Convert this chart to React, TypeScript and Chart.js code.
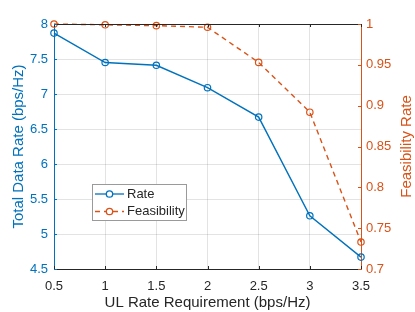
import React, { useEffect, useRef } from "react";
import { Chart, registerables } from "chart.js";

Chart.register(...registerables);

const xValues = [0.5, 1, 1.5, 2, 2.5, 3, 3.5];
const rateValues = [7.87, 7.45, 7.41, 7.09, 6.67, 5.26, 4.67];
const feasValues = [1.0, 0.999, 0.998, 0.996, 0.953, 0.892, 0.733];
const seriesNames = ["Rate", "Feasibility"];
const xTitle = "UL Rate Requirement (bps/Hz)";
const yTitle = "Total Data Rate (bps/Hz)";
const y1Title = "Feasibility Rate";

const BLUE = "#0072BD";
const ORANGE = "#D95319";
const DARK = "#262626";
const GRID = "rgba(38,38,38,0.13)";
const FONT = "'Liberation Sans', Arial, Helvetica, sans-serif";
const TITLE_SIZE = 15;

const fmt = (v: number) => String(Number(Number(v).toFixed(2)));

const overlayPlugin = {
  id: "overlay",
  afterDraw(chart: any) {
    const ctx = chart.ctx;
    const { left, right, top, bottom } = chart.chartArea;
    const xs = chart.scales.x;
    const ys = chart.scales.y;
    const y1s = chart.scales.y1;
    ctx.save();
    ctx.strokeStyle = DARK;
    ctx.lineWidth = 1;
    ctx.beginPath();
    ctx.moveTo(left, top + 0.5);
    ctx.lineTo(right, top + 0.5);
    ctx.stroke();
    const tl = 3;
    ctx.strokeStyle = DARK;
    xs.ticks.forEach((t: any) => {
      const px = Math.round(xs.getPixelForValue(t.value)) + 0.5;
      ctx.beginPath();
      ctx.moveTo(px, bottom);
      ctx.lineTo(px, bottom - tl);
      ctx.moveTo(px, top);
      ctx.lineTo(px, top + tl);
      ctx.stroke();
    });
    ctx.strokeStyle = BLUE;
    ys.ticks.forEach((t: any) => {
      const py = Math.round(ys.getPixelForValue(t.value)) + 0.5;
      ctx.beginPath();
      ctx.moveTo(left, py);
      ctx.lineTo(left + tl, py);
      ctx.stroke();
    });
    ctx.strokeStyle = ORANGE;
    y1s.ticks.forEach((t: any) => {
      const py = Math.round(y1s.getPixelForValue(t.value)) + 0.5;
      ctx.beginPath();
      ctx.moveTo(right, py);
      ctx.lineTo(right - tl, py);
      ctx.stroke();
    });
    ctx.fillStyle = ORANGE;
    ctx.font = `${TITLE_SIZE}px ${FONT}`;
    ctx.textAlign = "center";
    ctx.textBaseline = "middle";
    ctx.translate(chart.width - 8, (top + bottom) / 2);
    ctx.rotate(-Math.PI / 2);
    ctx.fillText(y1Title, 0, 0);
    ctx.restore();

    ctx.save();
    const lx = 92, ly = 184, lw = 94, lh = 36;
    ctx.fillStyle = "#ffffff";
    ctx.fillRect(lx, ly, lw, lh);
    ctx.strokeStyle = "#9a9a9a";
    ctx.lineWidth = 1;
    ctx.strokeRect(lx + 0.5, ly + 0.5, lw, lh);
    const rows = [
      { name: seriesNames[0], color: BLUE, dash: [] as number[], y: 194 },
      { name: seriesNames[1], color: ORANGE, dash: [5, 4], y: 211.5 },
    ];
    rows.forEach((r) => {
      ctx.strokeStyle = r.color;
      ctx.lineWidth = 1.3;
      ctx.setLineDash(r.dash);
      ctx.beginPath();
      ctx.moveTo(95, r.y);
      ctx.lineTo(124, r.y);
      ctx.stroke();
      ctx.setLineDash([]);
      ctx.beginPath();
      ctx.arc(109.5, r.y, 3.2, 0, Math.PI * 2);
      ctx.fillStyle = "#ffffff";
      ctx.fill();
      ctx.stroke();
      ctx.fillStyle = DARK;
      ctx.font = `13px ${FONT}`;
      ctx.textAlign = "left";
      ctx.textBaseline = "middle";
      ctx.fillText(r.name, 127, r.y);
    });
    ctx.restore();
  },
};

export default function App() {
  const ref = useRef<HTMLCanvasElement | null>(null);
  useEffect(() => {
    if (!ref.current) return;
    const chart = new Chart(ref.current, {
      type: "line",
      data: {
        datasets: [
          {
            label: seriesNames[1],
            data: xValues.map((x, i) => ({ x, y: feasValues[i] })),
            yAxisID: "y1",
            borderColor: ORANGE,
            backgroundColor: "rgba(0,0,0,0)",
            borderWidth: 1.4,
            borderDash: [5, 4],
            pointRadius: 3.2,
            pointBorderWidth: 1.2,
            pointBackgroundColor: "rgba(0,0,0,0)",
            pointBorderColor: ORANGE,
            tension: 0,
            clip: false as any,
          },
          {
            label: seriesNames[0],
            data: xValues.map((x, i) => ({ x, y: rateValues[i] })),
            yAxisID: "y",
            borderColor: BLUE,
            backgroundColor: "rgba(0,0,0,0)",
            borderWidth: 1.4,
            pointRadius: 3.2,
            pointBorderWidth: 1.2,
            pointBackgroundColor: "rgba(0,0,0,0)",
            pointBorderColor: BLUE,
            tension: 0,
            clip: false as any,
          },
        ],
      },
      options: {
        animation: false,
        responsive: false,
        maintainAspectRatio: false,
        devicePixelRatio: 1,
        layout: { padding: { top: 24, left: 0, right: 0, bottom: 0 } },
        plugins: { legend: { display: false }, tooltip: { enabled: false } },
        scales: {
          x: {
            type: "linear",
            min: 0.5,
            max: 3.5,
            ticks: {
              stepSize: 0.5,
              color: DARK,
              font: { size: 13, family: FONT },
              padding: 10,
              maxRotation: 0,
              callback: (v: any) => fmt(v),
            },
            grid: { color: GRID, drawTicks: false },
            border: { color: DARK, width: 1 },
            title: {
              display: true,
              text: xTitle,
              color: DARK,
              font: { size: TITLE_SIZE, family: FONT },
              padding: { top: 0, bottom: 0 },
            },
            afterFit: (s: any) => {
              s.height = 43;
            },
          },
          y: {
            type: "linear",
            position: "left",
            min: 4.5,
            max: 8,
            ticks: {
              stepSize: 0.5,
              color: BLUE,
              font: { size: 13, family: FONT },
              padding: 6,
              callback: (v: any) => fmt(v),
            },
            grid: { color: GRID, drawTicks: false },
            border: { color: BLUE, width: 1 },
            title: {
              display: true,
              text: yTitle,
              color: BLUE,
              font: { size: TITLE_SIZE, family: FONT },
              padding: { top: 10, bottom: 0 },
            },
            afterFit: (s: any) => {
              s.width = 54;
            },
          },
          y1: {
            type: "linear",
            position: "right",
            min: 0.7,
            max: 1,
            ticks: {
              stepSize: 0.05,
              color: ORANGE,
              font: { size: 13, family: FONT },
              padding: 5,
              callback: (v: any) => fmt(v),
            },
            grid: { drawOnChartArea: false, drawTicks: false },
            border: { color: ORANGE, width: 1 },
            afterFit: (s: any) => {
              s.width = 54;
            },
          },
        },
      } as any,
      plugins: [overlayPlugin],
    });
    return () => chart.destroy();
  }, []);
  return (
    <div style={{ position: "absolute", left: 0, top: 0, width: 415, height: 312, background: "#fff" }}>
      <canvas ref={ref} width={415} height={312} style={{ width: 415, height: 312, display: "block" }} />
    </div>
  );
}
